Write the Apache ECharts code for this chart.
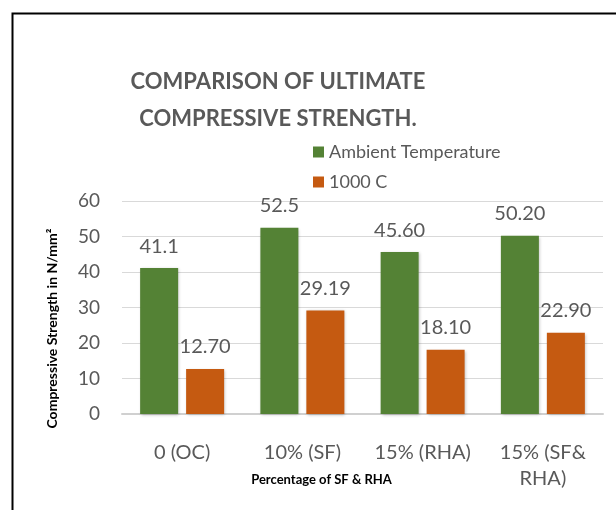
<!DOCTYPE html>
<html>
<head>
<meta charset="utf-8">
<script src="https://cdn.jsdelivr.net/npm/echarts@6/dist/echarts.min.js"></script>
<style>
  html, body { margin: 0; padding: 0; background: #fff; }
  #chart { width: 616px; height: 510px; }
</style>
</head>
<body>
<div id="chart"></div>
<script>
// Mix designs on the x axis
const categories = ['0 (OC)', '10% (SF)', '15% (RHA)', '15% (SF& RHA)'];
// Compressive strength (N/mm²) at ambient temperature and after 1000 °C exposure
const ambientValues = [41.1, 52.5, 45.6, 50.2];
const heatedValues = [12.7, 29.19, 18.1, 22.9];
// Printed labels as they appear above the bars
const ambientLabels = ['41.1', '52.5', '45.60', '50.20'];
const heatedLabels = ['12.70', '29.19', '18.10', '22.90'];
const yTicks = { min: 0, max: 60, interval: 10 };

const FONT = 'Lato, "Open Sans", sans-serif';
const GREY = '#595959';

const chart = echarts.init(document.getElementById('chart'), null, { renderer: 'canvas' });

const labelStyle = (texts) => ({
  show: true,
  position: 'top',
  distance: 12,
  color: GREY,
  fontFamily: FONT,
  fontSize: 20,
  formatter: (p) => texts[p.dataIndex]
});

chart.setOption({
  animation: false,
  backgroundColor: '#fff',
  title: {
    text: 'COMPARISON OF ULTIMATE\nCOMPRESSIVE STRENGTH.',
    left: 273,
    top: 58,
    textAlign: 'center',
    textStyle: {
      fontFamily: FONT,
      fontWeight: 'bold',
      fontSize: 22,
      lineHeight: 37,
      color: GREY
    }
  },
  legend: {
    orient: 'vertical',
    left: 313,
    top: 142,
    padding: 0,
    itemWidth: 11,
    itemHeight: 11,
    itemGap: 10,
    icon: 'rect',
    textStyle: { fontFamily: FONT, fontSize: 18, lineHeight: 20, color: GREY },
    data: ['Ambient Temperature', '1000 C']
  },
  grid: { left: 122, right: 13, top: 201, bottom: 96 },
  xAxis: {
    type: 'category',
    data: categories,
    name: 'Percentage of SF & RHA',
    nameLocation: 'middle',
    nameGap: 59,
    nameMoveOverlap: false,
    nameTextStyle: {
      fontFamily: FONT, fontWeight: 'bold', fontSize: 13, color: '#000',
      padding: [0, 82, 0, 0]
    },
    axisTick: { show: false },
    axisLine: { lineStyle: { color: '#d0d0d0', width: 2 } },
    axisLabel: {
      interval: 0,
      hideOverlap: false,
      color: GREY,
      fontFamily: FONT,
      fontSize: 20,
      lineHeight: 26,
      margin: 26,
      formatter: (v) => v.replace('& ', '&\n')
    }
  },
  yAxis: {
    type: 'value',
    min: yTicks.min,
    max: yTicks.max,
    interval: yTicks.interval,
    name: 'Compressive Strength in N/mm²',
    nameLocation: 'middle',
    nameGap: 63,
    nameRotate: 90,
    nameMoveOverlap: false,
    nameTextStyle: {
      fontFamily: FONT, fontWeight: 'bold', fontSize: 14, color: '#000',
      padding: [0, 42, 0, 0]
    },
    axisLine: { show: false },
    axisTick: { show: false },
    splitLine: { lineStyle: { color: '#d9d9d9', width: 1 } },
    axisLabel: { color: GREY, fontFamily: FONT, fontSize: 19, margin: 22 }
  },
  series: [
    {
      name: 'Ambient Temperature',
      type: 'bar',
      data: ambientValues,
      barWidth: 38,
      barGap: '21%',
      itemStyle: { color: '#548235', shadowColor: 'rgba(0,0,0,0.25)', shadowBlur: 3, shadowOffsetX: 1, shadowOffsetY: 1 },
      label: labelStyle(ambientLabels)
    },
    {
      name: '1000 C',
      type: 'bar',
      data: heatedValues,
      barWidth: 38,
      itemStyle: { color: '#c55a11', shadowColor: 'rgba(0,0,0,0.25)', shadowBlur: 3, shadowOffsetX: 1, shadowOffsetY: 1 },
      label: labelStyle(heatedLabels)
    }
  ],
  graphic: [
    {
      type: 'rect',
      silent: true,
      shape: { x: 12.5, y: 13.5, width: 700, height: 600 },
      style: { fill: 'none', stroke: '#000', lineWidth: 2 }
    }
  ]
});
</script>
</body>
</html>
